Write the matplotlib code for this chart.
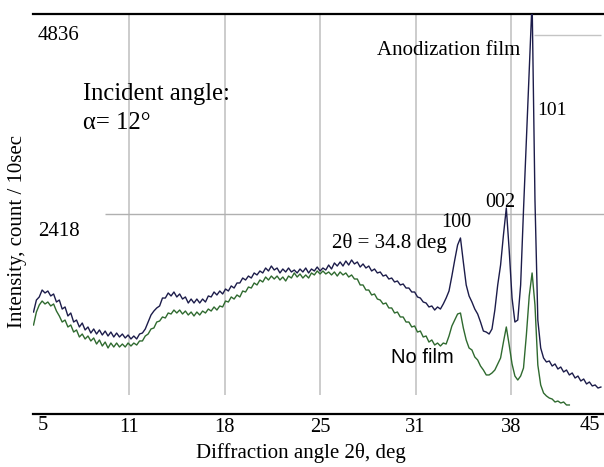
import numpy as np
import matplotlib.pyplot as plt

plt.rcParams['font.family'] = ['Liberation Serif', 'DejaVu Serif']

# scan grid (deg) and intensities (count / 10 sec)
scan_start = 5.0
scan_step = 0.2

anod = [1233, 1378, 1415, 1499, 1463, 1487, 1427, 1451, 1354, 1378,
        1269, 1294, 1185, 1221, 1112, 1136, 1052, 1100, 1016, 1052,
        979, 1028, 967, 1016, 955, 1003, 943, 991, 931, 979,
        931, 967, 919, 955, 907, 943, 907, 967, 979, 1028,
        1112, 1197, 1245, 1282, 1306, 1402, 1402, 1463, 1427, 1475,
        1415, 1451, 1390, 1415, 1342, 1390, 1342, 1390, 1342, 1390,
        1354, 1427, 1415, 1475, 1439, 1487, 1451, 1511, 1487, 1548,
        1523, 1584, 1584, 1644, 1620, 1668, 1644, 1705, 1681, 1729,
        1705, 1765, 1729, 1789, 1741, 1765, 1705, 1753, 1717, 1765,
        1717, 1741, 1705, 1753, 1717, 1765, 1705, 1753, 1729, 1777,
        1729, 1765, 1741, 1801, 1753, 1826, 1789, 1838, 1789, 1850,
        1801, 1862, 1814, 1838, 1777, 1814, 1765, 1789, 1729, 1753,
        1705, 1717, 1668, 1681, 1632, 1644, 1596, 1608, 1560, 1572,
        1523, 1523, 1475, 1475, 1415, 1402, 1354, 1342, 1294, 1306,
        1257, 1294, 1269, 1330, 1402, 1487, 1668, 1862, 2043, 2128,
        1838, 1560, 1427, 1354, 1269, 1209, 1112, 1003, 991, 967,
        1028, 1257, 1560, 1801, 2164, 2491, 1983, 1402, 1112, 1136,
        1560, 2466, 3313, 4159, 5000, 2587, 1136, 798, 677, 629,
        641, 580, 605, 544, 568, 508, 532, 472, 496, 435,
        459, 399, 423, 363, 387, 339, 351, 314, 326]

nofilm = [1076, 1233, 1318, 1366, 1330, 1354, 1306, 1330, 1245, 1185,
          1112, 1136, 1052, 1076, 991, 1016, 931, 967, 907, 943,
          883, 919, 846, 895, 822, 870, 798, 858, 810, 858,
          810, 846, 810, 858, 822, 858, 834, 883, 883, 943,
          967, 1028, 1040, 1112, 1124, 1173, 1161, 1221, 1209, 1257,
          1221, 1257, 1209, 1245, 1197, 1233, 1185, 1233, 1197, 1245,
          1221, 1269, 1245, 1294, 1257, 1306, 1294, 1366, 1354, 1415,
          1390, 1439, 1415, 1487, 1475, 1535, 1523, 1584, 1560, 1620,
          1596, 1656, 1620, 1668, 1632, 1668, 1620, 1656, 1608, 1668,
          1644, 1705, 1656, 1693, 1644, 1681, 1644, 1705, 1681, 1729,
          1693, 1729, 1693, 1717, 1681, 1717, 1668, 1717, 1681, 1705,
          1656, 1681, 1632, 1632, 1560, 1560, 1499, 1499, 1439, 1451,
          1390, 1378, 1330, 1342, 1282, 1282, 1221, 1233, 1173, 1173,
          1112, 1112, 1052, 1064, 991, 1003, 931, 943, 870, 895,
          834, 858, 822, 858, 846, 943, 1064, 1136, 1209, 1221,
          1040, 895, 798, 774, 689, 653, 580, 532, 472, 472,
          496, 532, 605, 677, 870, 1052, 834, 605, 459, 411,
          459, 556, 955, 1427, 1705, 1318, 592, 351, 254, 218,
          193, 181, 145, 157, 133, 145, 109, 109]

x_ticks = [5, 11.667, 18.333, 25, 31.667, 38.333, 45]
x_labels = ['5', '11', '18', '25', '31', '38', '45']
y_marks = [2418, 4836]

ang_a = scan_start + scan_step * np.arange(len(anod))
ang_n = scan_start + scan_step * np.arange(len(nofilm))

fig = plt.figure(figsize=(6.04, 4.67), dpi=100)
ax = fig.add_axes([33/604, 53/467, 573.6/604, 400/467])

ax.set_xlim(4.963, 45.0)
ax.set_ylim(0, y_marks[1])

# light grid
ax.vlines(x_ticks[1:-1], 230, y_marks[1], colors='#c4c4c4', lw=1.2, zorder=1)
ax.hlines(y_marks[0], 10.0, 45.0, colors='#b0b0b0', lw=1.0, zorder=1)
ax.hlines(4582, 39.9, 44.6, colors='#c4c4c4', lw=1.0, zorder=1)

ax.plot(ang_a, anod, color='#1c1c4a', lw=1.0, zorder=3)
ax.plot(ang_n, nofilm, color='#2f6a2f', lw=1.0, zorder=2)

for s in ['left', 'right']:
    ax.spines[s].set_visible(False)
for s in ['top', 'bottom']:
    ax.spines[s].set_linewidth(1.6)
    ax.spines[s].set_color('black')

ax.set_yticks([])
ax.set_xticks(x_ticks[1:-1])
ax.set_xticklabels(x_labels[1:-1], fontsize=14.8)
ax.tick_params(axis='x', length=0, pad=3)
ax.annotate(x_labels[0], xy=(x_ticks[0], 0), xytext=(9, -11), textcoords='offset pixels',
            ha='center', va='center', fontsize=14.8, annotation_clip=False)
ax.annotate(x_labels[-1], xy=(x_ticks[-1], 0), xytext=(-17, -11), textcoords='offset pixels',
            ha='center', va='center', fontsize=14.8, annotation_clip=False)

for v, dy in zip(y_marks, [-18, -21]):
    ax.annotate(str(v), xy=(0, v), xycoords=('axes fraction', 'data'), xytext=(5, dy),
                textcoords='offset pixels', ha='left', va='center', fontsize=15)

ax.text(8.45, 3869, 'Incident angle:', fontsize=17.7, va='center', ha='left')
ax.text(8.45, 3518, 'α= 12°', fontsize=17.7, va='center', ha='left')
ax.text(28.97, 4389, 'Anodization film', fontsize=15, va='center', ha='left')
ax.text(40.14, 3675, '101', fontsize=14, va='center', ha='left')
ax.text(36.51, 2563, '002', fontsize=14.5, va='center', ha='left')
ax.text(33.44, 2321, '100', fontsize=14.5, va='center', ha='left')
ax.text(25.83, 2067, '2θ = 34.8 deg', fontsize=15, va='center', ha='left')
ax.text(29.95, 689, 'No film', fontsize=14.5, va='center', ha='left',
        family=['Liberation Sans', 'DejaVu Sans'])

fig.text(301/604, 1 - 453/467, 'Diffraction angle 2θ, deg', fontsize=15, ha='center', va='center')
fig.text(18/604, 1 - 231/467, 'Intensity, count / 10sec', fontsize=15, ha='center', va='center',
         rotation=90)

fig.savefig('out.png', dpi=100)
